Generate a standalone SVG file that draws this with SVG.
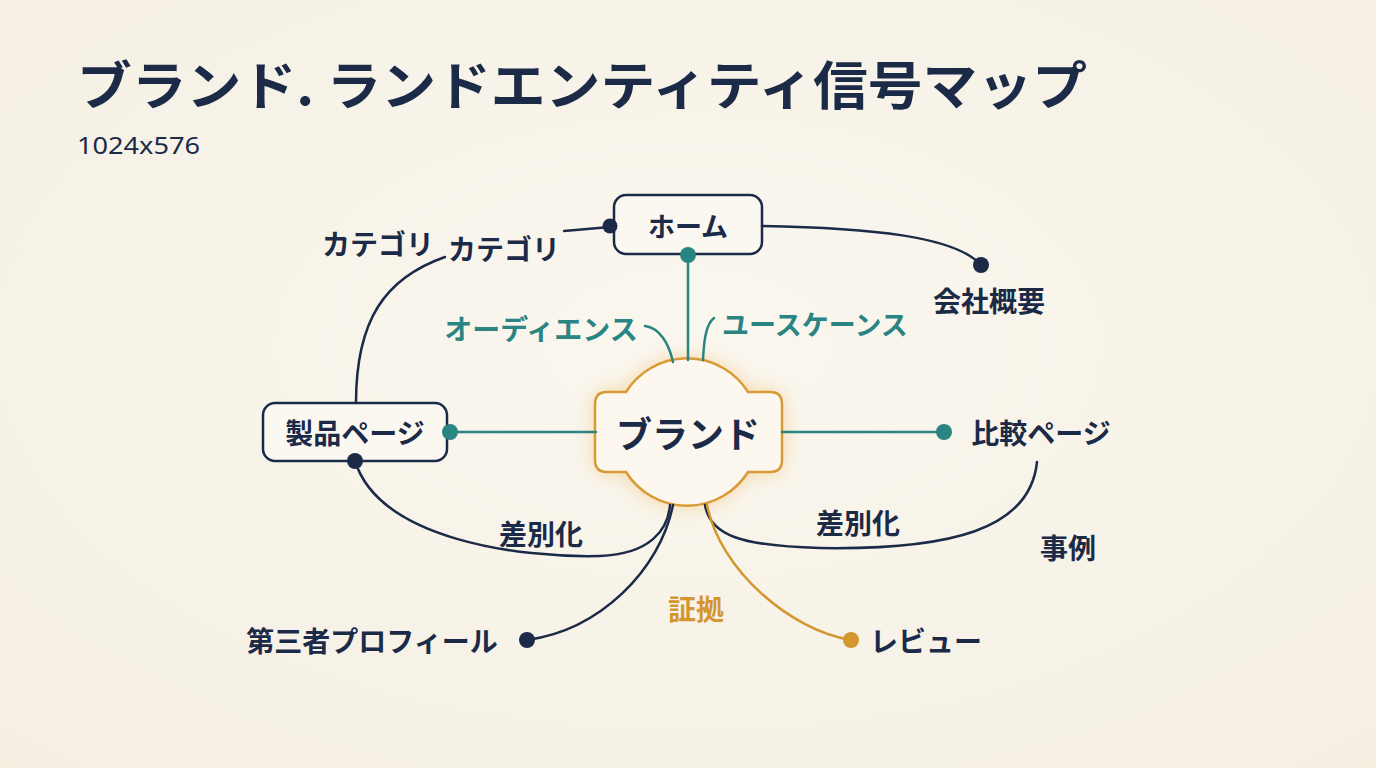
<svg xmlns="http://www.w3.org/2000/svg" width="1376" height="768" viewBox="0 0 1376 768">
<defs>
<radialGradient id="bg" cx="50%" cy="45%" r="75%">
<stop offset="0" stop-color="#faf7ef"/>
<stop offset="1" stop-color="#f5efe2"/>
</radialGradient>
<filter id="glow" x="-50%" y="-50%" width="200%" height="200%">
<feGaussianBlur stdDeviation="10"/>
</filter>
<style>
.t{font-family:"Noto Sans CJK JP","Noto Sans",sans-serif;font-weight:700;fill:#1b2a47}
.lbl{font-size:28px;text-anchor:middle;dominant-baseline:central}
.teal{fill:#2a8482}
.orange{fill:#d4962e}
.navyl{fill:none;stroke:#1b2a47;stroke-width:2.5;stroke-linecap:round}
.teall{fill:none;stroke:#2a8482;stroke-width:2.5;stroke-linecap:round}
.orangel{fill:none;stroke:#d4962e;stroke-width:2.5;stroke-linecap:round}
.box{fill:#fbf8f2;stroke:#1b2a47;stroke-width:2.5}
</style>
</defs>
<rect width="1376" height="768" fill="url(#bg)"/>

<g id="title">
<text class="t" x="77" y="105" font-size="52" textLength="1010" lengthAdjust="spacingAndGlyphs">ブランド. ランドエンティティ信号マップ</text>
<text x="77" y="154" font-family="Noto Sans, sans-serif" font-size="24" fill="#1b2a47" textLength="123" lengthAdjust="spacingAndGlyphs">1024x576</text>
</g>

<g id="brand">
<path d="M607 392 L626 392 A72 72 0 0 1 748 392 L770 392 Q782 392 782 404 L782 460 Q782 472 770 472 L748 472 A72 72 0 0 1 626 472 L607 472 Q595 472 595 460 L595 404 Q595 392 607 392 Z" fill="#f0b45a" opacity="0.55" filter="url(#glow)"/>
<path d="M607 392 L626 392 A72 72 0 0 1 748 392 L770 392 Q782 392 782 404 L782 460 Q782 472 770 472 L748 472 A72 72 0 0 1 626 472 L607 472 Q595 472 595 460 L595 404 Q595 392 607 392 Z" fill="#fcf8ef" stroke="#d99a35" stroke-width="2.5"/>
<text class="t lbl" x="688" y="432" style="font-size:36px">ブランド</text>
</g>

<g id="home">
<rect class="box" x="614" y="195" width="148" height="59" rx="12"/>
<text class="t lbl" x="688" y="225" style="font-size:27px">ホーム</text>
</g>

<g id="product">
<rect class="box" x="263" y="403" width="184" height="58" rx="12"/>
<text class="t lbl" x="355" y="432">製品ページ</text>
</g>

<g id="connectors">
<path class="navyl" d="M356 403 C356 320 385 278 445 257"/>
<path class="navyl" d="M564 231 L610 227"/>
<path class="navyl" d="M762 226 C870 228 955 236 981 265"/>
<path class="teall" d="M688 255 L688 360"/>
<path class="teall" d="M645 326 C660 328 669 344 673 362"/>
<path class="teall" d="M714 318 C706 324 704 340 703 360"/>
<path class="teall" d="M450 432 L596 432"/>
<path class="teall" d="M782 432 L944 432"/>
<path class="navyl" d="M355 461 C380 540 520 558 600 556 C650 554 668 530 670 505"/>
<path class="navyl" d="M1037 462 C1030 530 950 550 820 548 C740 546 710 535 705 505"/>
<path class="navyl" d="M527 640 C600 630 660 570 673 505"/>
<path class="orangel" d="M707 505 C720 570 790 630 851 640"/>
<circle cx="610" cy="226" r="7.5" fill="#1b2a47"/>
<circle cx="688" cy="255" r="8" fill="#2a8482"/>
<circle cx="981" cy="265" r="8" fill="#1b2a47"/>
<circle cx="450" cy="432" r="8" fill="#2a8482"/>
<circle cx="944" cy="432" r="8" fill="#2a8482"/>
<circle cx="355" cy="461" r="8" fill="#1b2a47"/>
<circle cx="527" cy="640" r="8" fill="#1b2a47"/>
<circle cx="851" cy="640" r="8" fill="#d4962e"/>
</g>

<g id="category1"><text class="t lbl" x="378" y="243">カテゴリ</text></g>
<g id="category2"><text class="t lbl" x="504" y="248">カテゴリ</text></g>
<g id="company"><text class="t lbl" x="989" y="300">会社概要</text></g>
<g id="audience"><text class="t lbl teal" x="541" y="328">オーディエンス</text></g>
<g id="usecase"><text class="t lbl teal" x="815" y="323" style="font-size:27px">ユースケーンス</text></g>
<g id="compare"><text class="t lbl" x="1041" y="432">比較ページ</text></g>
<g id="diff1"><text class="t lbl" x="541" y="533">差別化</text></g>
<g id="diff2"><text class="t lbl" x="858" y="522">差別化</text></g>
<g id="case"><text class="t lbl" x="1068" y="547">事例</text></g>
<g id="evidence"><text class="t lbl orange" x="696" y="608">証拠</text></g>
<g id="thirdparty"><text class="t lbl" x="372" y="640">第三者プロフィール</text></g>
<g id="review"><text class="t lbl" x="926" y="640">レビュー</text></g>
</svg>
